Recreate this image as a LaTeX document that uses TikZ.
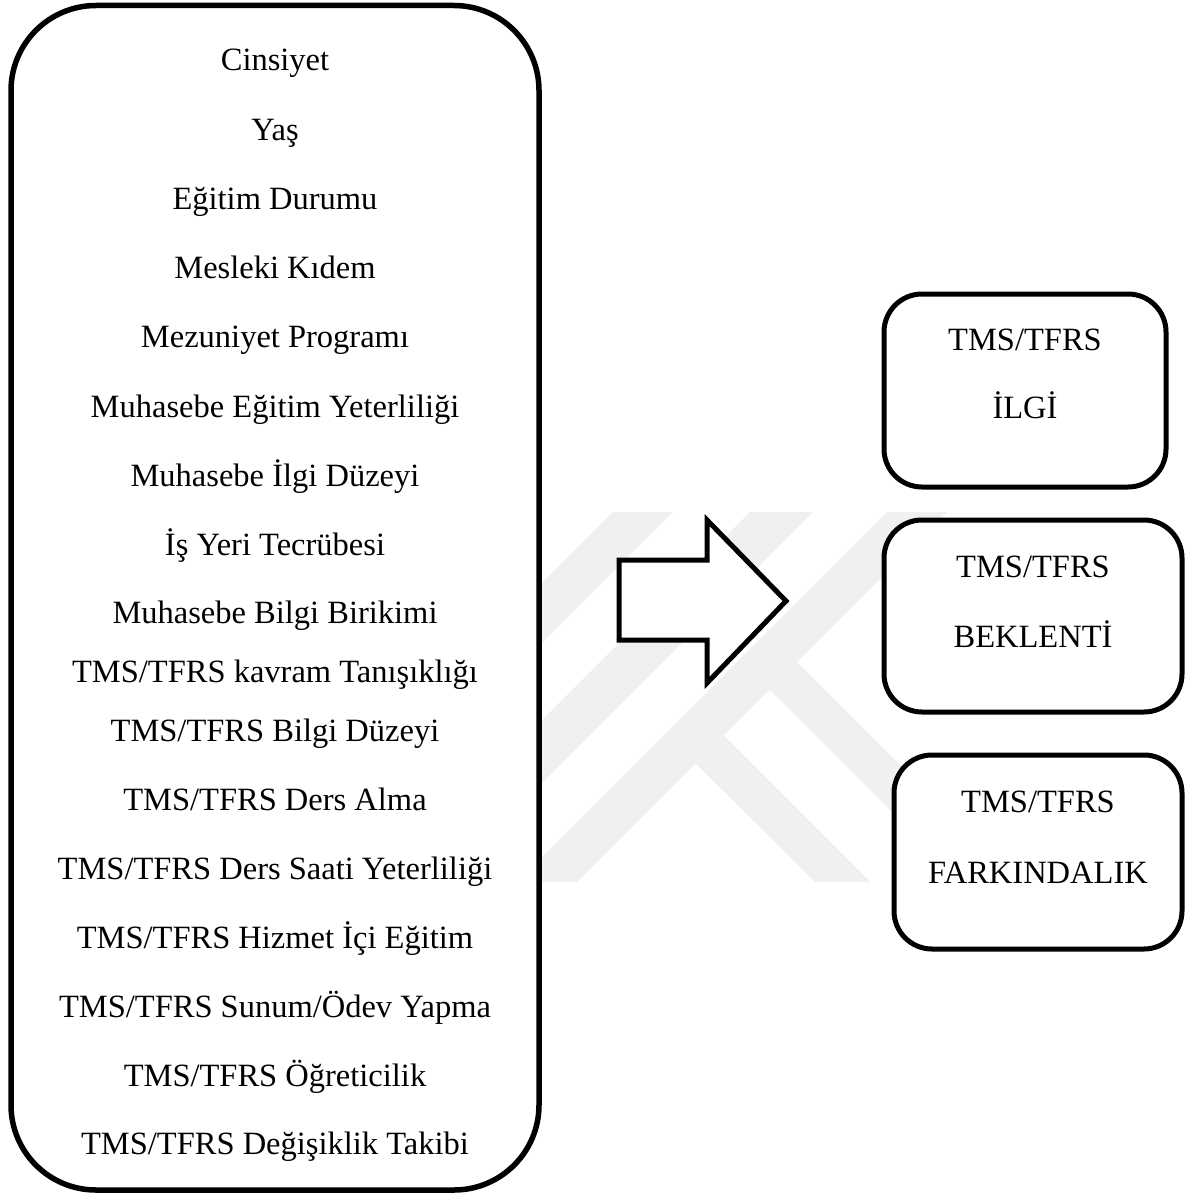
\documentclass[tikz,border=0pt]{standalone}
\usepackage{fontspec}
\setmainfont{Liberation Serif}
\definecolor{wm}{RGB}{240,240,240}
\begin{document}
\begin{tikzpicture}[x=1pt,y=-1pt,
  bigbox/.style={draw, rectangle, line width=5.5pt, rounded corners=85pt, fill=white, inner sep=0pt},
  smallbox/.style={draw, rectangle, line width=5pt, rounded corners=38pt, fill=white, inner sep=0pt},
  lbl/.style={anchor=base, font=\fontsize{32.5}{39}\selectfont, inner sep=0pt},
  blockarrow/.style={draw, line width=5pt, fill=white, miter limit=10},
  wmark/.style={fill=wm}]
\useasboundingbox (0,0) rectangle (1189,1196);
\fill[white] (0,0) rectangle (1189,1196);
% faint watermark
\path[wmark] (613,512) -- (673,512) -- (400,785) -- (340,785) -- cycle;
\path[wmark] (750,512) -- (813,512) -- (500,825) -- (437,825) -- cycle;
\path[wmark] (887,512) -- (947,512) -- (577,882) -- (517,882) -- cycle;
\path[wmark] (692,760) -- (720,732) -- (870,882) -- (815,882) -- cycle;
\path[wmark] (766,686) -- (793,658) -- (1017,882) -- (962,882) -- cycle;
% left box
\node[bigbox, minimum width=528pt, minimum height=1184.5pt] (factors) at (275,597.75) {};
\node[lbl] (f1) at (275,71) {Cinsiyet};
\node[lbl] (f2) at (275,140) {Yaş};
\node[lbl] (f3) at (275,209) {Eğitim Durumu};
\node[lbl] (f4) at (275,278) {Mesleki Kıdem};
\node[lbl] (f5) at (275,347) {Mezuniyet Programı};
\node[lbl] (f6) at (275,417) {Muhasebe Eğitim Yeterliliği};
\node[lbl] (f7) at (275,486) {Muhasebe İlgi Düzeyi};
\node[lbl] (f8) at (275,555) {İş Yeri Tecrübesi};
\node[lbl] (f9) at (275,623) {Muhasebe Bilgi Birikimi};
\node[lbl] (f10) at (275,682) {TMS/TFRS kavram Tanışıklığı};
\node[lbl] (f11) at (275,741) {TMS/TFRS Bilgi Düzeyi};
\node[lbl] (f12) at (275,810) {TMS/TFRS Ders Alma};
\node[lbl] (f13) at (275,879) {TMS/TFRS Ders Saati Yeterliliği};
\node[lbl] (f14) at (275,948) {TMS/TFRS Hizmet İçi Eğitim};
\node[lbl] (f15) at (275,1017) {TMS/TFRS Sunum/Ödev Yapma};
\node[lbl] (f16) at (275,1086) {TMS/TFRS Öğreticilik};
\node[lbl] (f17) at (275,1154) {TMS/TFRS Değişiklik Takibi};
% block arrow
\draw[blockarrow] (619,560) -- (707,560) -- (707,520) -- (786,601) -- (707,683) -- (707,640) -- (619,640) -- cycle;
% right boxes
\node[smallbox, minimum width=282pt, minimum height=193pt] (ilgi) at (1025,390.5) {};
\node[lbl] (ilgi1) at (1025,350) {TMS/TFRS};
\node[lbl] (ilgi2) at (1025,418) {İLGİ};
\node[smallbox, minimum width=298pt, minimum height=192pt] (beklenti) at (1033,616) {};
\node[lbl] (bek1) at (1033,577) {TMS/TFRS};
\node[lbl] (bek2) at (1033,647) {BEKLENTİ};
\node[smallbox, minimum width=288pt, minimum height=194pt] (fark) at (1038,852) {};
\node[lbl] (fark1) at (1038,812) {TMS/TFRS};
\node[lbl] (fark2) at (1038,883) {FARKINDALIK};
\end{tikzpicture}
\end{document}
